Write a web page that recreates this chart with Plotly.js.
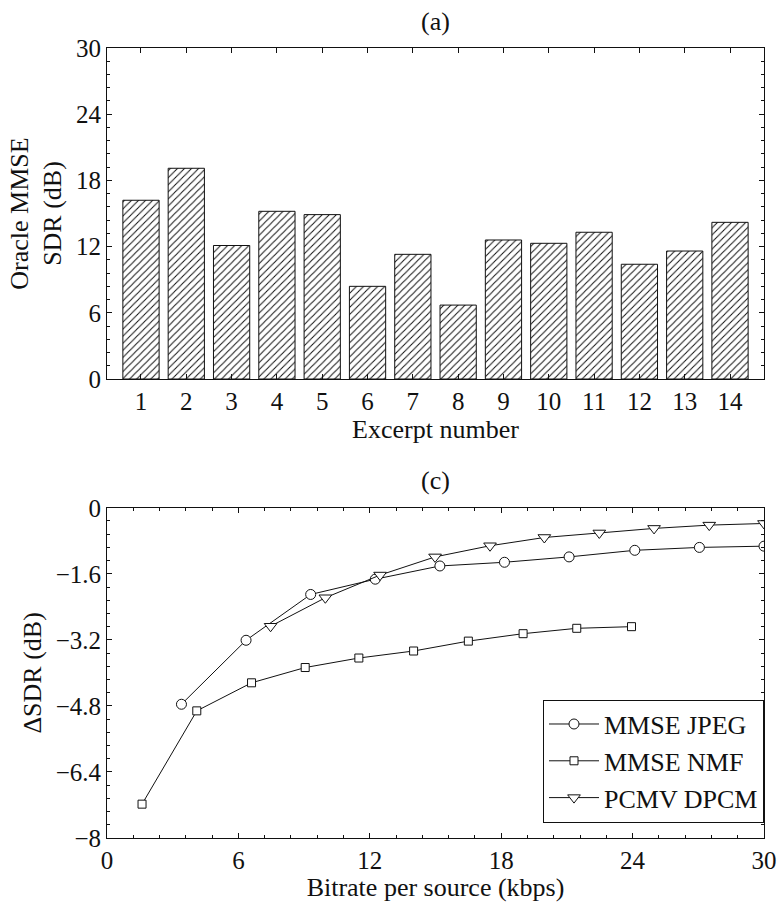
<!DOCTYPE html>
<html>
<head>
<meta charset="utf-8">
<script src="https://cdn.plot.ly/plotly-3.0.1.min.js"></script>
<style>html,body{margin:0;padding:0;background:#fff;}#chart{width:779px;height:902px;}</style>
</head>
<body>
<div id="chart"></div>
<script>
// Panel (a): oracle MMSE SDR per excerpt
const excerpts = [1,2,3,4,5,6,7,8,9,10,11,12,13,14];
const oracleSDR = [16.2,19.1,12.1,15.2,14.9,8.4,11.3,6.7,12.6,12.3,13.3,10.4,11.6,14.2];

// Panel (c): delta SDR vs bitrate
const jpegRate = [3.4,6.35,9.3,12.25,15.2,18.15,21.1,24.1,27.05,30.0];
const jpegDSDR = [-4.76,-3.21,-2.10,-1.73,-1.41,-1.32,-1.19,-1.03,-0.96,-0.93];
const nmfRate = [1.6,4.1,6.6,9.05,11.5,14.0,16.5,19.0,21.45,23.95];
const nmfDSDR = [-7.18,-4.92,-4.24,-3.87,-3.64,-3.47,-3.23,-3.05,-2.92,-2.88];
const dpcmRate = [7.47,9.97,12.47,14.98,17.49,19.97,22.48,24.98,27.5,30.0];
const dpcmDSDR = [-2.87,-2.18,-1.63,-1.19,-0.92,-0.72,-0.61,-0.50,-0.42,-0.38];

const seriesNames = ['MMSE JPEG','MMSE NMF','PCMV DPCM'];
const FONT = 'Liberation Serif, Times New Roman, serif';
const ink = '#111111';
const TICK = 25, TITLE = 26;

const traces = [
  {type:'bar', x:excerpts, y:oracleSDR, xaxis:'x', yaxis:'y', width:0.8, showlegend:false,
   marker:{color:'white', line:{color:ink, width:1},
           pattern:{shape:'/', fgcolor:ink, bgcolor:'white', size:5, solidity:0.2}}},
  {type:'scatter', mode:'lines+markers', name:seriesNames[0], x:jpegRate, y:jpegDSDR, xaxis:'x2', yaxis:'y2',
   line:{color:ink, width:1}, marker:{symbol:'circle', size:10, color:'white', line:{color:ink, width:1}}},
  {type:'scatter', mode:'lines+markers', name:seriesNames[1], x:nmfRate, y:nmfDSDR, xaxis:'x2', yaxis:'y2',
   line:{color:ink, width:1}, marker:{symbol:'square', size:8, color:'white', line:{color:ink, width:1}}},
  {type:'scatter', mode:'lines+markers', name:seriesNames[2], x:dpcmRate, y:dpcmDSDR, xaxis:'x2', yaxis:'y2',
   line:{color:ink, width:1}, marker:{symbol:'triangle-down', size:11, color:'white', line:{color:ink, width:1}}}
];

const axBase = {showline:true, linecolor:ink, linewidth:1, mirror:'allticks', ticks:'inside', ticklen:5,
  tickcolor:ink, showgrid:false, zeroline:false, tickfont:{family:FONT, size:TICK, color:ink}};
const tf = {family:FONT, size:TITLE, color:ink};

const layout = {
  width:779, height:902,
  margin:{l:107, r:15, t:48, b:64},
  paper_bgcolor:'white', plot_bgcolor:'white',
  font:{family:FONT, size:TITLE, color:ink},
  xaxis: Object.assign({}, axBase, {domain:[0,1], anchor:'y', range:[0.25,14.75], tickvals:excerpts,
     title:{text:'Excerpt number', font:tf, standoff:0}}),
  yaxis: Object.assign({}, axBase, {domain:[0.581,1], anchor:'x', range:[0,30], dtick:6,
     minor:{dtick:1.2, ticks:'inside', ticklen:3, tickcolor:ink},
     title:{text:'Oracle MMSE<br>SDR (dB)', font:tf, standoff:6}}),
  xaxis2: Object.assign({}, axBase, {domain:[0,1], anchor:'y2', range:[0,30], dtick:6,
     minor:{dtick:1.2, ticks:'inside', ticklen:3, tickcolor:ink},
     title:{text:'Bitrate per source (kbps)', font:tf, standoff:0}}),
  yaxis2: Object.assign({}, axBase, {domain:[0,0.418], anchor:'x2', range:[-8,0], dtick:1.6,
     minor:{dtick:0.32, ticks:'inside', ticklen:3, tickcolor:ink},
     title:{text:'ΔSDR (dB)', font:tf, standoff:6}}),
  legend:{x:1, xanchor:'right', y:0.0195, yanchor:'bottom', bgcolor:'white', bordercolor:ink, borderwidth:1,
     font:{family:FONT, size:TITLE, color:ink}, tracegroupgap:0, itemwidth:50},
  annotations:[
    {text:'(a)', xref:'paper', yref:'paper', x:0.5, y:1.033, xanchor:'center', yanchor:'middle', showarrow:false,
     font:tf},
    {text:'(c)', xref:'paper', yref:'paper', x:0.5, y:0.453, xanchor:'center', yanchor:'middle', showarrow:false,
     font:tf}
  ]
};

Plotly.newPlot('chart', traces, layout, {displayModeBar:false, staticPlot:true});
</script>
</body>
</html>
